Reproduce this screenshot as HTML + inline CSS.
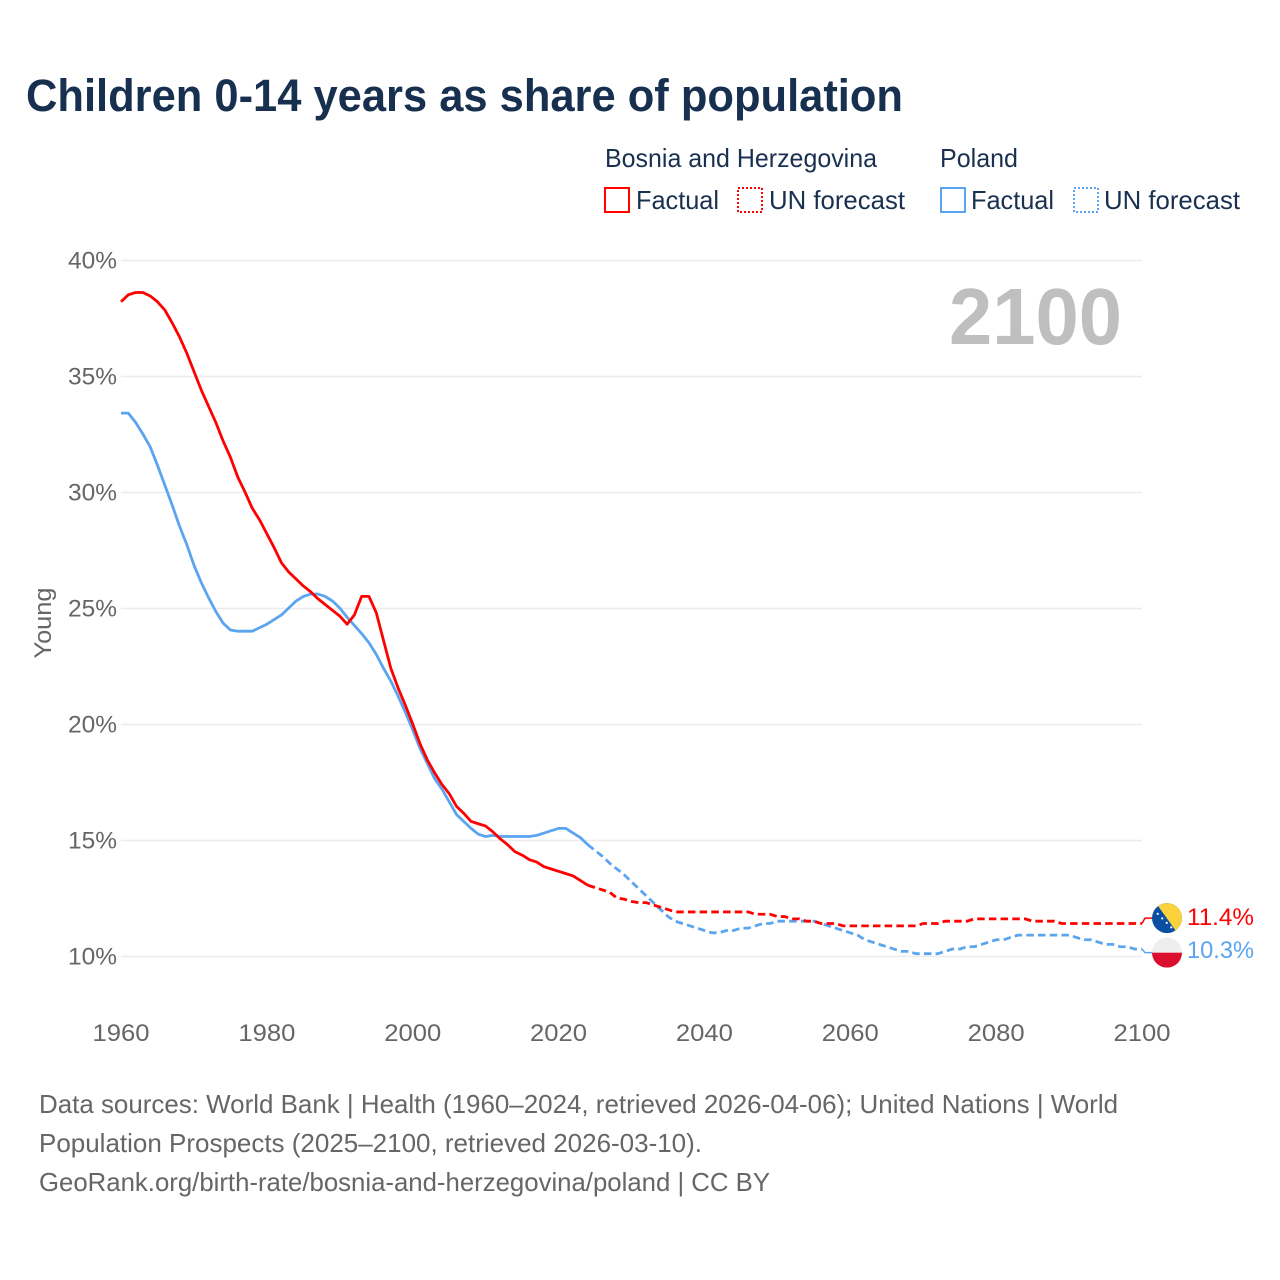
<!DOCTYPE html>
<html lang="en">
<head>
<meta charset="utf-8">
<title>Children 0-14 years as share of population</title>
<style>
  html, body { margin: 0; padding: 0; background: #fff; }
  svg { display: block; font-family: "Liberation Sans", "DejaVu Sans", sans-serif; }
</style>
</head>
<body>
<svg id="chart" xmlns="http://www.w3.org/2000/svg" width="1280" height="1280" viewBox="0 0 1280 1280">
  <rect x="0" y="0" width="1280" height="1280" fill="#ffffff"/>
  <text x="26" y="111" font-size="45" font-weight="700" fill="#17304f" textLength="877" lengthAdjust="spacingAndGlyphs">Children 0-14 years as share of population</text>

  <g font-size="26" fill="#1a3050">
    <text x="605" y="167" textLength="272" lengthAdjust="spacingAndGlyphs">Bosnia and Herzegovina</text>
    <text x="940" y="167" textLength="78" lengthAdjust="spacingAndGlyphs">Poland</text>
    <rect x="605" y="188" width="24" height="24" fill="none" stroke="#ff0000" stroke-width="2"/>
    <text x="636" y="209" textLength="83" lengthAdjust="spacingAndGlyphs">Factual</text>
    <rect x="738" y="188" width="24" height="24" fill="none" stroke="#ff0000" stroke-width="2" stroke-dasharray="2 2"/>
    <text x="769" y="209" textLength="136" lengthAdjust="spacingAndGlyphs">UN forecast</text>
    <rect x="941" y="188" width="24" height="24" fill="none" stroke="#5ba5f0" stroke-width="2"/>
    <text x="971" y="209" textLength="83" lengthAdjust="spacingAndGlyphs">Factual</text>
    <rect x="1074" y="188" width="24" height="24" fill="none" stroke="#5ba5f0" stroke-width="2" stroke-dasharray="2 2"/>
    <text x="1104" y="209" textLength="136" lengthAdjust="spacingAndGlyphs">UN forecast</text>
  </g>

  <g id="grid"></g>
  <g id="yticks"></g>
  <g id="xticks"></g>

  <text transform="translate(51,623) rotate(-90)" text-anchor="middle" font-size="24" fill="#666666" textLength="71" lengthAdjust="spacingAndGlyphs">Young</text>
  <text x="949" y="344" font-size="80" font-weight="700" fill="#bfbfbf" textLength="173" lengthAdjust="spacingAndGlyphs">2100</text>

  <g id="series"></g>

  <g id="flag-bosnia"></g>
  <g id="flag-poland"></g>

  <g font-size="26" fill="#666666">
    <text x="39" y="1113" textLength="1079" lengthAdjust="spacingAndGlyphs">Data sources: World Bank | Health (1960–2024, retrieved 2026-04-06); United Nations | World</text>
    <text x="39" y="1152" textLength="663" lengthAdjust="spacingAndGlyphs">Population Prospects (2025–2100, retrieved 2026-03-10).</text>
    <text x="39" y="1191" textLength="731" lengthAdjust="spacingAndGlyphs">GeoRank.org/birth-rate/bosnia-and-herzegovina/poland | CC BY</text>
  </g>
</svg>

<script>
const yTickValues = [10, 15, 20, 25, 30, 35, 40];
const xTickYears = [1960, 1980, 2000, 2020, 2040, 2060, 2080, 2100];
const factualStartYear = 1960;
const forecastStartYear = 2024;

const bosniaFactual = [
  38.2, 38.5, 38.6, 38.6, 38.45, 38.2, 37.85, 37.3, 36.7, 36.0,
  35.2, 34.4, 33.7, 33.0, 32.2, 31.5, 30.65, 30.0, 29.3, 28.8,
  28.2, 27.6, 26.95, 26.55, 26.25, 25.95, 25.7, 25.4, 25.15, 24.9,
  24.65, 24.3, 24.7, 25.5, 25.5, 24.8, 23.6, 22.4, 21.55, 20.8,
  20.0, 19.15, 18.45, 17.9, 17.4, 17.0, 16.45, 16.15, 15.8, 15.7,
  15.6, 15.35, 15.05, 14.8, 14.5, 14.35, 14.15, 14.05, 13.85, 13.75,
  13.65, 13.55, 13.45, 13.25, 13.05
];
const bosniaForecast = [
  13.05, 12.95, 12.85, 12.75, 12.5, 12.45, 12.35, 12.3, 12.3, 12.2, 12.1, 12.0,
  11.9, 11.9, 11.9, 11.9, 11.9, 11.9, 11.9, 11.9, 11.9, 11.9, 11.9,
  11.8, 11.8, 11.8, 11.7, 11.7, 11.6, 11.6, 11.5, 11.5, 11.4, 11.4, 11.4, 11.3,
  11.3, 11.3, 11.3, 11.3, 11.3, 11.3, 11.3, 11.3, 11.3, 11.3,
  11.4, 11.4, 11.4, 11.5, 11.5, 11.5, 11.5,
  11.6, 11.6, 11.6, 11.6, 11.6, 11.6, 11.6, 11.6,
  11.5, 11.5, 11.5, 11.5,
  11.4, 11.4, 11.4, 11.4, 11.4, 11.4, 11.4, 11.4, 11.4, 11.4, 11.4, 11.4
];
const polandFactual = [
  33.4, 33.4, 33.0, 32.5, 31.95, 31.15, 30.3, 29.45, 28.55, 27.75,
  26.85, 26.1, 25.45, 24.85, 24.35, 24.05, 24.0, 24.0, 24.0, 24.15,
  24.3, 24.5, 24.7, 25.0, 25.3, 25.5, 25.6, 25.6, 25.5, 25.3,
  25.0, 24.6, 24.25, 23.9, 23.5, 23.0, 22.4, 21.85, 21.2, 20.5,
  19.75, 18.95, 18.3, 17.65, 17.2, 16.65, 16.1, 15.8, 15.5, 15.25,
  15.15, 15.2, 15.15, 15.15, 15.15, 15.15, 15.15, 15.2, 15.3, 15.4,
  15.5, 15.5, 15.3, 15.1, 14.8
];
const polandForecast = [
  14.8, 14.55, 14.3, 14.0, 13.75, 13.5, 13.2, 12.9, 12.6, 12.3, 12.0, 11.7,
  11.5, 11.4, 11.3, 11.2, 11.1, 11.0, 11.0, 11.1, 11.1, 11.2, 11.2,
  11.3, 11.4, 11.4, 11.5, 11.5, 11.5, 11.5, 11.5, 11.5, 11.4, 11.3, 11.2, 11.1,
  11.0, 10.9, 10.7, 10.6, 10.5, 10.4, 10.3, 10.2, 10.2, 10.1,
  10.1, 10.1, 10.1, 10.2, 10.3, 10.3, 10.4, 10.4, 10.5, 10.6, 10.7, 10.7, 10.8, 10.9,
  10.9, 10.9, 10.9, 10.9, 10.9, 10.9, 10.9,
  10.8, 10.7, 10.7, 10.6, 10.5, 10.5, 10.4, 10.4, 10.3, 10.3
];

const SVG_NS = 'http://www.w3.org/2000/svg';
const RED = '#ff0000';
const BLUE = '#5ba5f0';

function xScale(year) { return 121 + (year - 1960) * (1021 / 140); }
function yScale(value) { return 956 - (value - 10) * 23.2; }

function make(tag, attrs, parent) {
  const el = document.createElementNS(SVG_NS, tag);
  for (const key in attrs) el.setAttribute(key, attrs[key]);
  parent.appendChild(el);
  return el;
}

const gridGroup = document.getElementById('grid');
const yTickGroup = document.getElementById('yticks');
yTickValues.forEach(function (v) {
  const line = make('line', { x1: 121, x2: 1142, y1: yScale(v) + 0.5, y2: yScale(v) + 0.5, stroke: '#ececec', 'stroke-width': 1.5 }, gridGroup);
  
  
  const label = make('text', { x: 68, y: yScale(v) + 8.5, 'font-size': 24, fill: '#666666', textLength: 49, lengthAdjust: 'spacingAndGlyphs' }, yTickGroup);
  
  
  label.textContent = v + '%';
});

const xTickGroup = document.getElementById('xticks');
xTickYears.forEach(function (year) {
  const label = make('text', { x: xScale(year) - 28.5, y: 1041, 'font-size': 24, fill: '#666666', textLength: 57, lengthAdjust: 'spacingAndGlyphs' }, xTickGroup);
  
  
  label.textContent = String(year);
});

function linePath(values, startYear) {
  return values.map(function (v, i) {
    return (i === 0 ? 'M' : 'L') + xScale(startYear + i).toFixed(2) + ' ' + yScale(v).toFixed(2);
  }).join(' ');
}

const seriesGroup = document.getElementById('series');

const polandFactualLine = make('path', { d: linePath(polandFactual, factualStartYear), fill: 'none', stroke: BLUE, 'stroke-width': 2.8, 'stroke-linejoin': 'round' }, seriesGroup);



const polandForecastLine = make('path', { d: linePath(polandForecast, forecastStartYear), fill: 'none', stroke: BLUE, 'stroke-width': 2.8, 'stroke-dasharray': '7.5 4.2' }, seriesGroup);



const bosniaFactualLine = make('path', { d: linePath(bosniaFactual, factualStartYear), fill: 'none', stroke: RED, 'stroke-width': 2.8, 'stroke-linejoin': 'round' }, seriesGroup);



const bosniaForecastLine = make('path', { d: linePath(bosniaForecast, forecastStartYear), fill: 'none', stroke: RED, 'stroke-width': 2.8, 'stroke-dasharray': '7.5 4.2' }, seriesGroup);



const lastBosnia = bosniaForecast[bosniaForecast.length - 1];
const lastPoland = polandForecast[polandForecast.length - 1];
const endMid = (yScale(lastBosnia) + yScale(lastPoland)) / 2 - 1;
const flagBosniaY = endMid - 17.2;
const flagPolandY = endMid + 17.4;
const flagX = 1167;
const endX = xScale(2100);

const connectorBosnia = make('path', { d: 'M' + endX + ' ' + yScale(lastBosnia) + ' L' + (endX + 3) + ' ' + flagBosniaY + ' L' + (flagX - 14) + ' ' + flagBosniaY, fill: 'none', stroke: RED, 'stroke-width': 1.5 }, seriesGroup);



const connectorPoland = make('path', { d: 'M' + endX + ' ' + yScale(lastPoland) + ' L' + (endX + 3) + ' ' + flagPolandY + ' L' + (flagX - 14) + ' ' + flagPolandY, fill: 'none', stroke: BLUE, 'stroke-width': 1.5 }, seriesGroup);



/* Bosnia flag */
const fb = document.getElementById('flag-bosnia');
const clipDefs = make('defs', {}, fb);
const clipB = make('clipPath', { id: 'clip-bosnia' }, clipDefs);
make('circle', { cx: flagX, cy: flagBosniaY, r: 15 }, clipB);
const clipP = make('clipPath', { id: 'clip-poland' }, clipDefs);
make('circle', { cx: flagX, cy: flagPolandY, r: 15 }, clipP);

const fbInner = make('g', { 'clip-path': 'url(#clip-bosnia)' }, fb);
make('rect', { x: flagX - 15, y: flagBosniaY - 15, width: 30, height: 30, fill: '#0b4ea2' }, fbInner);
make('polygon', {
  points: (flagX - 11) + ',' + (flagBosniaY - 15) + ' ' + (flagX + 15) + ',' + (flagBosniaY - 15) + ' ' + (flagX + 15) + ',' + (flagBosniaY + 15) + ' ' + (flagX + 9) + ',' + (flagBosniaY + 13),
  fill: '#fcd23c'
}, fbInner);
const starOffsets = [-1.5, -0.9, -0.3, 0.3, 0.9, 1.5];
starOffsets.forEach(function (k) {
  make('circle', { cx: flagX - 2.5 + k * 7.5, cy: flagBosniaY + 2.5 + k * 7.5, r: 1.1, fill: '#ffffff' }, fbInner);
});

/* Poland flag */
const fp = document.getElementById('flag-poland');
const fpInner = make('g', { 'clip-path': 'url(#clip-poland)' }, fp);
make('rect', { x: flagX - 15, y: flagPolandY - 15, width: 30, height: 15, fill: '#eeeeee' }, fpInner);
make('rect', { x: flagX - 15, y: flagPolandY, width: 30, height: 15, fill: '#dc0e2e' }, fpInner);

const labelBosnia = make('text', { x: 1187, y: flagBosniaY + 7, 'font-size': 24, fill: RED, textLength: 67, lengthAdjust: 'spacingAndGlyphs' }, seriesGroup);


labelBosnia.textContent = lastBosnia.toFixed(1) + '%';

const labelPoland = make('text', { x: 1187, y: flagPolandY + 5.5, 'font-size': 24, fill: BLUE, textLength: 67, lengthAdjust: 'spacingAndGlyphs' }, seriesGroup);


labelPoland.textContent = lastPoland.toFixed(1) + '%';
</script>
</body>
</html>
